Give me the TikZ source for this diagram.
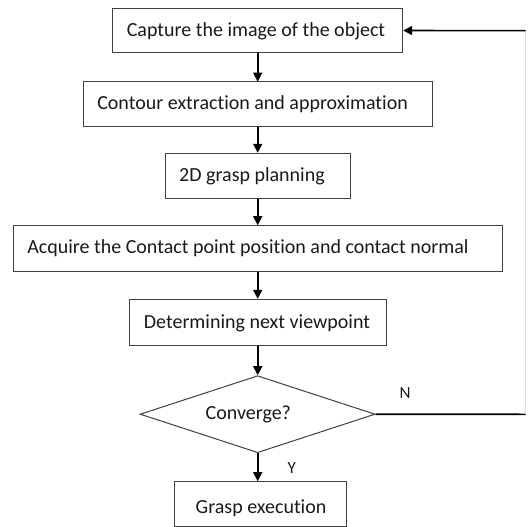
\documentclass[tikz,border=0pt]{standalone}
\usepackage{fontspec}
\setmainfont[Ligatures=NoCommon]{Carlito}
\usetikzlibrary{arrows.meta,shapes.geometric}
\begin{document}
\begin{tikzpicture}[x=1pt,y=-1pt,
  box/.style={draw=black!75,line width=1pt,rectangle,inner sep=0pt},
  txt/.style={inner sep=0pt,font=\fontsize{20}{24}\selectfont,text=black!90},
  lbl/.style={inner sep=0pt,font=\fontsize{17}{20}\selectfont,text=black!90},
  arr/.style={line width=1.6pt,-{Triangle[length=9pt,width=9pt]}},
  fb/.style={line width=1.6pt}]
\useasboundingbox (0,0) rectangle (530,527);
\node[box,minimum width=290.4pt,minimum height=44.4pt] (b1) at (257.5,30.5) {};
\node[txt] (t1) at (256,31) {Capture the image of the object};
\node[box,minimum width=348.6pt,minimum height=45pt] (b2) at (258,104.2) {};
\node[txt] (t2) at (252.6,104) {Contour extraction and approximation};
\node[box,minimum width=184.7pt,minimum height=45pt] (b3) at (257.7,175.8) {};
\node[txt] (t3) at (252,176.5) {2D grasp planning};
\node[box,minimum width=489pt,minimum height=46pt] (b4) at (257.8,248.7) {};
\node[txt] (t4) at (248,248.5) {Acquire the Contact point position and contact normal};
\node[box,minimum width=256.7pt,minimum height=45.7pt] (b5) at (258.3,322.2) {};
\node[txt] (t5) at (257,323) {Determining next viewpoint};
\node[box,diamond,minimum width=235pt,minimum height=77pt,aspect=3.05] (d) at (257.6,414.2) {};
\node[txt] (td) at (248.3,414.3) {Converge?};
\node[box,minimum width=172pt,minimum height=45pt] (b6) at (260,504.2) {};
\node[txt] (t6) at (261,508) {Grasp execution};
\draw[arr] (257.7,52.7) -- (257.7,81.7);
\draw[arr] (b2.south -| 257.7,0) -- (b3.north -| 257.7,0);
\draw[arr] (b3.south -| 257.7,0) -- (b4.north -| 257.7,0);
\draw[arr] (b4.south -| 257.7,0) -- (b5.north -| 257.7,0);
\draw[arr] (b5.south -| 257.7,0) -- (d.north -| 257.7,0);
\draw[arr] (d.south -| 257.7,0) -- (b6.north -| 257.7,0);
\coordinate (c1) at (525.5,414.3);
\coordinate (c2) at (525.5,30.7);
\draw[fb] (d.east) -- (c1);
\draw[line width=0.8pt,black!12] (c1) -- (c2);
\draw[arr] (c2) -- (b1.east);
\node[lbl] (n) at (405,393) {N};
\node[lbl] (y) at (291.7,468.3) {Y};
\end{tikzpicture}
\end{document}
